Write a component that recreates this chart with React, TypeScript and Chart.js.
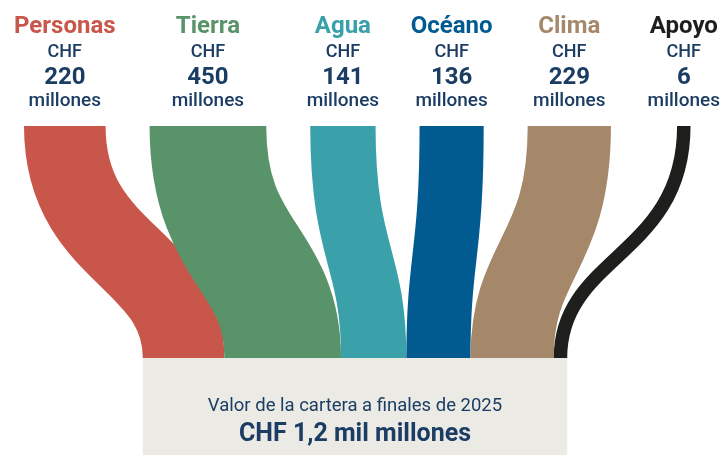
import React, { useEffect, useRef } from "react";
import { Chart, registerables } from "chart.js";

Chart.register(...registerables);

// ---- data ----
const categories = ["Personas", "Tierra", "Agua", "Océano", "Clima", "Apoyo"];
const valuesMillions = [220, 450, 141, 136, 229, 6];
const seriesColors = ["#C9564A", "#589369", "#3AA0AA", "#015B91", "#A58769", "#1E1E1C"];
const currencyLabel = "CHF";
const unitLabel = "millones";
const totalTitle = "Valor de la cartera a finales de 2025";
const totalLabel = "CHF 1,2 mil millones";

// ---- layout (scale units) ----
const W = 724;
const H = 455;
const TOP_Y = 126;
const BOTTOM_Y = 358;
const BOX_BOTTOM = 455;
const WIDTH_PER_SQRT = 5.5;
const TOP_START = 24;
const TOP_GAP = 44;
const RIGHT_PAD = 4;
const BOTTOM_CENTER = 355;
const CTRL_FRAC = 0.56;
const FONT = "Roboto, 'Noto Sans', sans-serif";
const NAVY = "#1B3C63";
const BOX_COLOR = "#EBEAE5";

const flowsPlugin = {
  id: "flows",
  afterDraw(chart: any) {
    const { ctx, scales } = chart;
    const xs = scales.x;
    const ys = scales.y;
    const px = (v: number) => xs.getPixelForValue(v);
    const py = (v: number) => ys.getPixelForValue(v);
    const unit = px(1) - px(0);

    const widths = valuesMillions.map((v) => Math.sqrt(v) * WIDTH_PER_SQRT);

    ctx.save();
    ctx.font = `500 19px ${FONT}`;
    const lastHalf = ctx.measureText(unitLabel).width / 2 / unit;

    // top centres
    const topCenters: number[] = [];
    let cursor = TOP_START;
    widths.forEach((w, i) => {
      if (i === widths.length - 1) {
        topCenters.push(W - RIGHT_PAD - lastHalf);
      } else {
        topCenters.push(cursor + w / 2);
        cursor += w + TOP_GAP;
      }
    });

    // bottom centres (stacked)
    const total = widths.reduce((a, b) => a + b, 0);
    const bottomStart = BOTTOM_CENTER - total / 2;
    const bottomCenters: number[] = [];
    let bc = bottomStart;
    widths.forEach((w) => {
      bottomCenters.push(bc + w / 2);
      bc += w;
    });

    // flows
    const yTop = py(TOP_Y);
    const yBot = py(BOTTOM_Y);
    const yc = py(TOP_Y + (BOTTOM_Y - TOP_Y) * CTRL_FRAC);
    widths.forEach((w, i) => {
      const xt = px(topCenters[i]);
      const xb = px(bottomCenters[i]);
      ctx.beginPath();
      ctx.moveTo(xt, yTop);
      ctx.bezierCurveTo(xt, yc, xb, yc, xb, yBot);
      ctx.lineWidth = w * unit;
      ctx.lineCap = "butt";
      ctx.strokeStyle = seriesColors[i];
      ctx.stroke();
    });

    // total box
    const bx0 = px(bottomStart);
    const bx1 = px(bottomStart + total);
    ctx.fillStyle = BOX_COLOR;
    ctx.fillRect(bx0, yBot, bx1 - bx0, py(BOX_BOTTOM) - yBot);

    ctx.textAlign = "center";
    ctx.textBaseline = "alphabetic";
    const boxMid = (bx0 + bx1) / 2;
    ctx.fillStyle = NAVY;
    ctx.font = `400 18.5px ${FONT}`;
    ctx.fillText(totalTitle, boxMid, py(411));
    ctx.font = `700 25px ${FONT}`;
    ctx.fillText(totalLabel, boxMid, py(441));

    // labels
    categories.forEach((c, i) => {
      const x = px(topCenters[i]);
      ctx.fillStyle = seriesColors[i];
      ctx.font = `700 24px ${FONT}`;
      ctx.fillText(c, x, py(33));
      ctx.fillStyle = NAVY;
      ctx.font = `500 18px ${FONT}`;
      ctx.fillText(currencyLabel, x, py(57));
      ctx.font = `700 24px ${FONT}`;
      ctx.fillText(String(valuesMillions[i]), x, py(84));
      ctx.font = `500 19px ${FONT}`;
      ctx.fillText(unitLabel, x, py(106));
    });
    ctx.restore();
  },
};

export default function App() {
  const ref = useRef<HTMLCanvasElement>(null);
  useEffect(() => {
    document.body.style.margin = "0";
    const canvas = ref.current!;
    const chart = new Chart(canvas, {
      type: "scatter",
      data: { labels: categories, datasets: [] },
      options: {
        animation: false,
        responsive: false,
        devicePixelRatio: 1,
        layout: { padding: 0 },
        plugins: { legend: { display: false }, tooltip: { enabled: false } },
        scales: {
          x: { type: "linear", min: 0, max: W, display: false },
          y: { type: "linear", min: 0, max: H, reverse: true, display: false },
        },
      },
      plugins: [flowsPlugin],
    });
    return () => chart.destroy();
  }, []);
  return (
    <div style={{ width: W, height: H, background: "#fff" }}>
      <canvas ref={ref} width={W} height={H} style={{ display: "block" }} />
    </div>
  );
}
